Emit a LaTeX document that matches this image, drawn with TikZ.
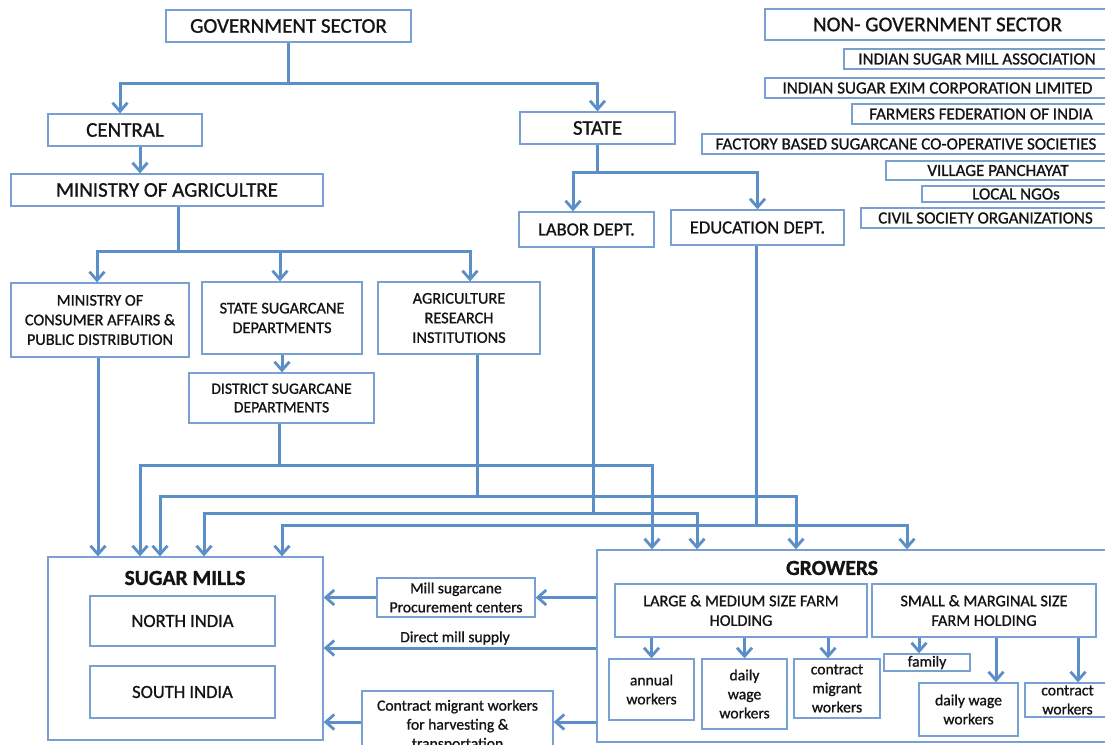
\documentclass[tikz,border=0pt]{standalone}
\usepackage{fontspec}
\setmainfont{Carlito}[RawFeature={embolden=1.0}]
\usetikzlibrary{arrows.meta}
\definecolor{boxc}{RGB}{120,160,210}
\definecolor{arrc}{RGB}{92,142,199}
\definecolor{txt}{RGB}{20,20,20}
\tikzset{
  box/.style={draw=boxc, line width=1.3pt, inner sep=0pt, align=center, text=txt},
  conn/.style={draw=arrc, line width=3pt},
  arr/.style={conn, -{Straight Barb[length=8.5pt,width=15pt,line width=2.8pt]}},
  fa/.style={font=\fontsize{21}{24}\selectfont},
  fb/.style={font=\fontsize{18.5}{21}\selectfont},
  fc/.style={font=\fontsize{17}{20}\selectfont},
  fd/.style={font=\fontsize{16.3}{19.6}\selectfont},
  fe/.style={font=\fontsize{15.6}{19}\selectfont},
  fbold/.style={font=\fontsize{21.5}{24}\selectfont\bfseries, text=txt},
  lbl/.style={font=\fontsize{15.6}{19}\selectfont, text=txt, inner sep=0pt},
}
\newcommand{\bnode}[7][]{\node[box,#1,minimum width={#5-#3},minimum height={#6-#4}] (#2) at ({(#3+#5)/2},{(#4+#6)/2}) {#7};}
\begin{document}
\begin{tikzpicture}[x=1pt,y=-1pt]
\useasboundingbox (0,0) rectangle (1105,744);
\fill[white] (0,0) rectangle (1105,744);
% government side
\bnode[fa]{gov}{166}{10}{411}{42}{GOVERNMENT SECTOR}
\bnode[fa]{central}{48}{114}{202}{146}{CENTRAL}
\bnode[fa]{state}{520}{112}{675}{144}{STATE}
\bnode[fa]{moa}{11}{174}{323}{206}{MINISTRY OF AGRICULTRE}
\bnode[fb]{labor}{519}{212}{654}{247}{LABOR DEPT.}
\bnode[fb]{edu}{671}{210}{844}{245}{EDUCATION DEPT.}
\bnode[fd]{mca}{11}{283}{189}{357}{MINISTRY OF\\CONSUMER AFFAIRS \&\\PUBLIC DISTRIBUTION}
\bnode[fd]{ssd}{202}{282}{362}{354}{STATE SUGARCANE\\DEPARTMENTS}
\bnode[fd]{ari}{378}{282}{540}{354}{AGRICULTURE\\RESEARCH\\INSTITUTIONS}
\bnode[font=\fontsize{15.7}{18.5}\selectfont]{dsd}{189}{373}{374}{423}{DISTRICT SUGARCANE\\DEPARTMENTS}
% non-government side
\bnode[fa]{nongov}{765}{9}{1110}{40}{NON- GOVERNMENT SECTOR}
\bnode[fc]{ism}{844}{49}{1110}{69}{INDIAN SUGAR MILL ASSOCIATION}
\bnode[fc]{isec}{765}{78}{1110}{98}{INDIAN SUGAR EXIM CORPORATION LIMITED}
\bnode[fc]{ffi}{852}{104}{1110}{124}{FARMERS FEDERATION OF INDIA}
\bnode[fc]{fbs}{702}{134}{1110}{154}{FACTORY BASED SUGARCANE CO-OPERATIVE SOCIETIES}
\bnode[fc]{vp}{886}{161}{1110}{180}{VILLAGE PANCHAYAT}
\bnode[fc]{ngo}{922}{186}{1110}{202}{LOCAL NGOs}
\bnode[fc]{cso}{861}{208}{1110}{228}{CIVIL SOCIETY ORGANIZATIONS}
% sugar mills
\bnode{mills}{48}{557}{323}{740}{}
\node[fbold] (millst) at (185,578) {SUGAR MILLS};
\bnode[fb]{north}{90}{596}{275}{646}{NORTH INDIA}
\bnode[fb]{south}{90}{666}{275}{718}{SOUTH INDIA}
% middle boxes
\bnode[fe]{proc}{377}{578}{535}{617}{Mill sugarcane\\Procurement centers}
\bnode[fe]{cmw}{362}{691}{553}{760}{Contract migrant workers\\for harvesting \&\\transportation}
% growers
\bnode{growers}{597}{550}{1112}{742}{}
\node[fbold] (growt) at (832,568) {GROWERS};
\bnode[fd]{lm}{615}{584}{867}{637}{LARGE \& MEDIUM SIZE FARM\\HOLDING}
\bnode[fd]{sm}{872}{584}{1096}{637}{SMALL \& MARGINAL SIZE\\FARM HOLDING}
\bnode[fe]{annual}{609}{659}{694}{720}{annual\\workers}
\bnode[fe]{dww1}{702}{659}{787}{729}{daily\\wage\\workers}
\bnode[fe]{cmw2}{794}{659}{880}{718}{contract\\migrant\\workers}
\bnode[fe]{family}{884}{654}{970}{671}{family}
\bnode[fe]{dww2}{919}{683}{1018}{736}{daily wage\\workers}
\bnode[fe]{cw}{1025}{683}{1110}{717}{contract\\workers}
% connectors: top hierarchy
\coordinate (jg) at (gov.south |- 0,83);
\draw[conn] (gov.south) -- (jg);
\draw[arr] (jg) -| ([xshift=-5]central.north);
\draw[arr] (jg) -| (state.north);
\coordinate (cm) at ([xshift=15]central.south);
\draw[arr] (cm) -- (cm |- moa.north);
\coordinate (js) at (state.south |- 0,172);
\draw[conn] (state.south) -- (js);
\draw[arr] (js) -| ([xshift=-13.5]labor.north);
\draw[arr] (js) -| (edu.north);
\coordinate (ma) at ([xshift=11]moa.south);
\coordinate (jm) at (ma |- 0,251);
\draw[conn] (ma) -- (jm);
\draw[arr] (jm) -| ([xshift=-3]mca.north);
\draw[arr] (jm) -| ([xshift=-2]ssd.north);
\draw[arr] (jm) -| ([xshift=11]ari.north);
\draw[arr] (ssd.south) -- (ssd.south |- dsd.north);
% connectors to mills and growers
\coordinate (mc) at ([xshift=-2]mca.south);
\draw[arr] (mc) -- (mc |- mills.north);
\coordinate (ds) at ([xshift=-2.5]dsd.south);
\coordinate (j1) at (ds |- 0,465);
\draw[conn] (ds) -- (j1);
\draw[arr] (j1) -| (mills.north -| 140,0);
\draw[arr] (j1) -| (growers.north -| 652,0);
\coordinate (ar) at ([xshift=18]ari.south);
\coordinate (j2) at (ar |- 0,496);
\draw[conn] (ar) -- (j2);
\draw[arr] (j2) -| (mills.north -| 160,0);
\draw[arr] (j2) -| (growers.north -| 796,0);
\coordinate (lb) at ([xshift=6.5]labor.south);
\coordinate (j3) at (lb |- 0,513);
\draw[conn] (lb) -- (j3);
\draw[arr] (j3) -| (mills.north -| 204,0);
\draw[arr] (j3) -| (growers.north -| 697,0);
\coordinate (ed) at ([xshift=-1.5]edu.south);
\coordinate (j4) at (ed |- 0,525);
\draw[conn] (ed) -- (j4);
\draw[arr] (j4) -| (mills.north -| 282,0);
\draw[arr] (j4) -| (growers.north -| 907,0);
% growers to mills
\draw[arr] (growers.west |- proc.east) -- (proc.east);
\draw[arr] (proc.west) -- (mills.east |- proc.west);
\draw[arr] (growers.west |- 0,648) -- (mills.east |- 0,648);
\node[lbl] (dms) at (455,638) {Direct mill supply};
\draw[arr] (growers.west |- 0,722) -- (cmw.east |- 0,722);
\draw[arr] (cmw.west |- 0,722) -- (mills.east |- 0,722);
% inside growers
\draw[arr] (lm.south -| annual.north) -- (annual.north);
\draw[arr] (lm.south -| dww1.north) -- (dww1.north);
\draw[arr] (lm.south -| 828,0) -- (cmw2.north -| 828,0);
\draw[arr] (sm.south -| 919,0) -- (family.north -| 919,0);
\draw[arr] (sm.south -| 996,0) -- (dww2.north -| 996,0);
\draw[arr] (sm.south -| 1078,0) -- (cw.north -| 1078,0);
\end{tikzpicture}
\end{document}
